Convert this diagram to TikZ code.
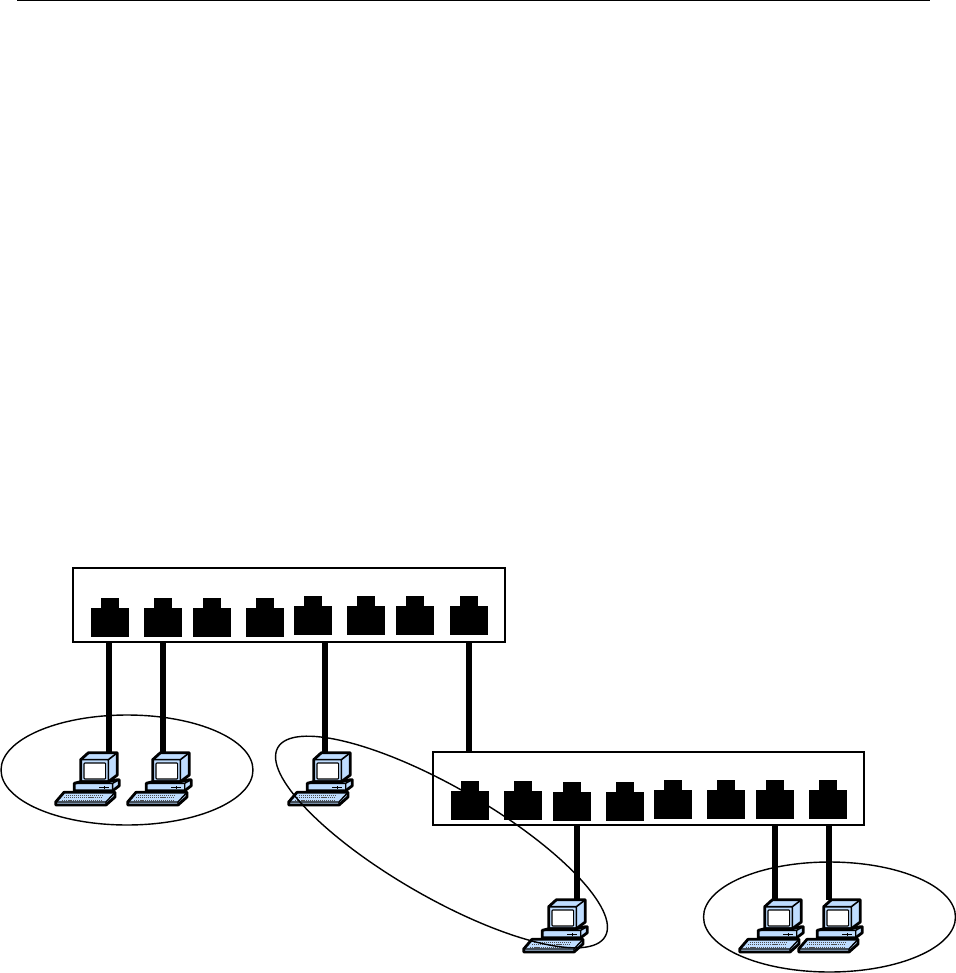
\documentclass[tikz,border=0pt]{standalone}
\usepackage{xcolor}
\usetikzlibrary{positioning}
\usetikzlibrary{shapes.geometric}
\definecolor{pcblue}{HTML}{BFDDFF}
\tikzset{
    switchbox/.style={rectangle, draw, line width=1.15pt, minimum width=8.64cm, minimum height=1.47cm, inner sep=0pt, outer sep=0pt},
    port/.style={rectangle, fill=black, minimum width=0.76cm, minimum height=0.58cm, inner sep=0pt, outer sep=0pt},
    porttab/.style={rectangle, fill=black, minimum width=0.36cm, minimum height=0.19cm, inner sep=0pt, outer sep=0pt},
    wire/.style={line width=3.4pt},
    lan/.style={ellipse, draw, line width=0.8pt, minimum width=5.04cm, minimum height=2.2cm, inner sep=0pt, outer sep=0pt},
    pcline/.style={draw=black, fill=pcblue, line width=1.6pt, line join=round},
    computer/.pic={
        % monitor
        \draw[pcline] (25.7,7.7) -- (33.3,0.8) -- (62.3,0.8) -- (62.3,23) -- (53.3,29.7) -- (25.7,29.7) -- cycle;
        \draw[line width=0.9pt] (25.7,7.7) -- (53.3,7.7) -- (62.3,0.8) (53.3,7.7) -- (53.3,29.7);
        \draw[fill=white, line width=0.6pt, rounded corners=0.5pt] (29,11) rectangle (50.7,27);
        % base
        \draw[pcline] (19.3,31.3) -- (25.7,29.7) -- (53.3,29.7) -- (62.3,27.7) -- (64.3,27.7) -- (64.3,33.7) -- (57.7,38.7) -- (19.3,38.7) -- cycle;
        \draw[line width=0.8pt] (19.3,31.3) -- (57.7,31.3) -- (64.3,27.7) (57.7,31.3) -- (57.7,38.7);
        \draw[line width=0.6pt] (44.3,35.7) -- (54.3,35.7) (49.2,34.2) -- (49.2,37.2);
        % keyboard
        \draw[pcline] (9,40.3) -- (60,40.3) -- (60,45) -- (51,53) -- (0.7,53) -- (0.7,50) -- cycle;
        \draw[line width=0.8pt] (0.7,50) -- (51,50) -- (60,40.3) (51,50) -- (51,53);
        \foreach \r/\xa/\xb in {43.2/11/48, 45.7/9.2/47, 48.2/7.4/46}
            \draw[black!70, line width=0.75pt, dash pattern=on 0.6pt off 0.55pt] (\xa,\r) -- (\xb,\r);
    }
}

\begin{document}
\begin{tikzpicture}[x=0.02cm, y=-0.02cm]
        \useasboundingbox (0,0) rectangle (956,973);

        % Page rule
        \coordinate (ruleL) at (17,0.5);
        \coordinate (ruleR) at (930,0.5);
        \draw[line width=0.85pt] (ruleL) -- (ruleR);

        % Switches
        \node[switchbox] (swA) at (289,605) {};
        \node[switchbox] (swB) at (648.5,788.5) {};

        % Ports of upper switch
        \foreach \n/\x/\y in {1/110/622, 2/163/622, 3/212/622, 4/265/622, 5/313/620, 6/366/620, 7/415/620, 8/468.5/620} {
            \node[port] (a\n) at (\x,\y) {};
            \node[porttab, above=0pt of a\n] (atab\n) {};
        }
        % Ports of lower switch
        \foreach \n/\x/\y in {1/470/805, 2/523/805, 3/572/806, 4/625/806, 5/673/804, 6/726/804, 7/775/804, 8/828/804} {
            \node[port] (b\n) at (\x,\y) {};
            \node[porttab, above=0pt of b\n] (btab\n) {};
        }

        % Where the wires reach the computers
        \coordinate (pc1top) at (109,753);
        \coordinate (pc2top) at (163,753);
        \coordinate (pc3top) at (325,753);
        \coordinate (pc4top) at (577,900);
        \coordinate (pc5top) at (775,900);
        \coordinate (pc6top) at (829,900);
        \coordinate (uplink) at (469,751);

        % Wires
        \draw[wire] (swA.south -| pc1top) -- (pc1top);
        \draw[wire] (swA.south -| pc2top) -- (pc2top);
        \draw[wire] (swA.south -| pc3top) -- (pc3top);
        \draw[wire] (swA.south -| uplink) -- (uplink);
        \draw[wire] (swB.south -| pc4top) -- (pc4top);
        \draw[wire] (swB.south -| pc5top) -- (pc5top);
        \draw[wire] (swB.south -| pc6top) -- (pc6top);

        % Computers
        \pic (pc1) at (55,752) {computer};
        \pic (pc2) at (127,752) {computer};
        \pic (pc3) at (288,752) {computer};
        \pic (pc4) at (523,899) {computer};
        \pic (pc5) at (739,899) {computer};
        \pic (pc6) at (798,899) {computer};

        % Groups
        \node[lan] (lan1) at (127,770) {};
        \node[lan, rotate=-30, minimum width=7.56cm] (lan2) at (441.5,842) {};
        \node[lan] (lan3) at (829.5,917) {};
    \end{tikzpicture}
\end{document}
